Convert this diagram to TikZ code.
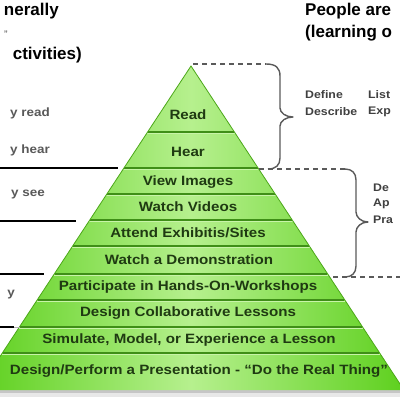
\documentclass[tikz,border=0pt]{standalone}
\usepackage{fontspec}
\setmainfont{Liberation Sans}
\newfontfamily\widefont[FakeStretch=1.12]{Liberation Sans}
\definecolor{gedge}{HTML}{5ED01E}
\definecolor{gmid}{HTML}{B6F08E}
\definecolor{gline}{HTML}{3F8F17}
\definecolor{glight}{HTML}{C8F4A8}
\definecolor{gtext}{HTML}{1F3A12}
\definecolor{bracec}{HTML}{5A5A5A}
\begin{document}
\begin{tikzpicture}[x=1pt,y=-1pt,
 band/.style={font=\widefont\bfseries\fontsize{13.5}{15}\selectfont, text=gtext, inner sep=0pt},
 side/.style={font=\widefont\bfseries\fontsize{12}{13}\selectfont, text=black!65, inner sep=0pt, anchor=east},
 head/.style={font=\bfseries\fontsize{17}{20}\selectfont, text=black, inner sep=0pt, anchor=west},
 rlab/.style={font=\widefont\bfseries\fontsize{11}{12}\selectfont, text=black!75, inner sep=0pt, anchor=west},
 sep/.style={gline, line width=1.3pt},
 blk/.style={black, line width=1.8pt},
 brc/.style={bracec, line width=1.4pt, line join=round},
 dsh/.style={bracec, line width=1.4pt, dash pattern=on 5pt off 4pt}]
\useasboundingbox (0,0) rectangle (400,400);
\clip (0,0) rectangle (400,400);
\fill[white] (0,0) rectangle (400,400);
\coordinate (apex) at (191,66);
\coordinate (bl) at (-22,390);
\coordinate (br) at (404,390);
% shadow under base
\fill[gray!45] (0,390) rectangle (400,393);
\fill[gray!18] (0,393) rectangle (400,397);
% cone
\shade[left color=gedge, right color=gedge, middle color=gmid] (apex) -- (bl) -- (br) -- cycle;
\foreach \yy in {132,168,194,220,246,274,300,327,353}{
  \draw[glight, line width=1pt] ({191-0.655*(\yy+1.6-66)},\yy+1.6) -- ({191+0.655*(\yy+1.6-66)},\yy+1.6);
  \draw[sep] ({191-0.655*(\yy-66)},\yy) -- ({191+0.655*(\yy-66)},\yy);
}
\draw[gedge!80!black, line width=0.8pt] (bl) -- (apex) -- (br);
% band texts
\node[band] (read) at (188,115) {Read};
\node[band] (hear) at (188,152) {Hear};
\node[band] (view) at (188,182) {View Images};
\node[band] (videos) at (188,207) {Watch Videos};
\node[band] (attend) at (188,233) {Attend Exhibitis/Sites};
\node[band] (demo) at (189,260) {Watch a Demonstration};
\node[band] (hands) at (188,287) {Participate in Hands-On-Workshops};
\node[band] (collab) at (188,313) {Design Collaborative Lessons};
\node[band] (sim) at (189,340) {Simulate, Model, or Experience a Lesson};
\node[band] (perf) at (199,371) {Design/Perform a Presentation - “Do the Real Thing”};
% left rules
\draw[blk] (0,168) -- (118,168);
\draw[blk] (0,221) -- (76,221);
\draw[blk] (0,274) -- (44,274);
\draw[blk] (0,327) -- (14,327);
\draw[gray!60, line width=1pt] (14,327) -- (20,327);
% left texts
\node[head, anchor=east] (h1) at (59,11) {nerally};
\node[font=\bfseries\fontsize{8}{9}\selectfont, text=black!60, inner sep=0pt] (h2) at (6,34) {''};
\node[head, anchor=east] (h3) at (82,55) {ctivities)};
\node[side] (l1) at (50,113) {y read};
\node[side] (l2) at (50,150) {y hear};
\node[side] (l3) at (45,195) {y see};
\node[side] (l4) at (15,295) {y};
% right headers
\node[head] (r1) at (305,11) {People are};
\node[head] (r2) at (305,33) {(learning o};
\node[rlab] (d1) at (305,95) {Define};
\node[rlab] (d2) at (368,95) {List};
\node[rlab] (d3) at (305,112) {Describe};
\node[rlab] (d4) at (368,112) {Exp};
\node[rlab] (p1) at (373,188) {De};
\node[rlab] (p2) at (373,204) {Ap};
\node[rlab] (p3) at (373,220) {Pra};
% braces
\coordinate (t0) at (193,64);
\coordinate (t1) at (266,64);
\coordinate (m1) at (268,169);
\coordinate (m0) at (259,169);
\coordinate (m2) at (345,169);
\coordinate (b1) at (345,277);
\coordinate (b0) at (333,277);
\coordinate (b2) at (400,277);
\draw[dsh] (t0) -- (t1);
\draw[brc] (t1) .. controls (276,64) and (280,68) .. (280,76) -- (280,108)
  .. controls (280,113) and (286,117) .. (293,117)
  .. controls (286,117) and (280,121) .. (280,126) -- (280,158)
  .. controls (280,165) and (276,169) .. (m1);
\draw[dsh] (m0) -- (m2);
\draw[brc] (m2) .. controls (352,169) and (356,173) .. (356,180) -- (356,212)
  .. controls (356,217) and (361,222) .. (368,222)
  .. controls (361,222) and (356,227) .. (356,232) -- (356,266)
  .. controls (356,273) and (352,277) .. (b1);
\draw[dsh] (b0) -- (b2);
\end{tikzpicture}
\end{document}
